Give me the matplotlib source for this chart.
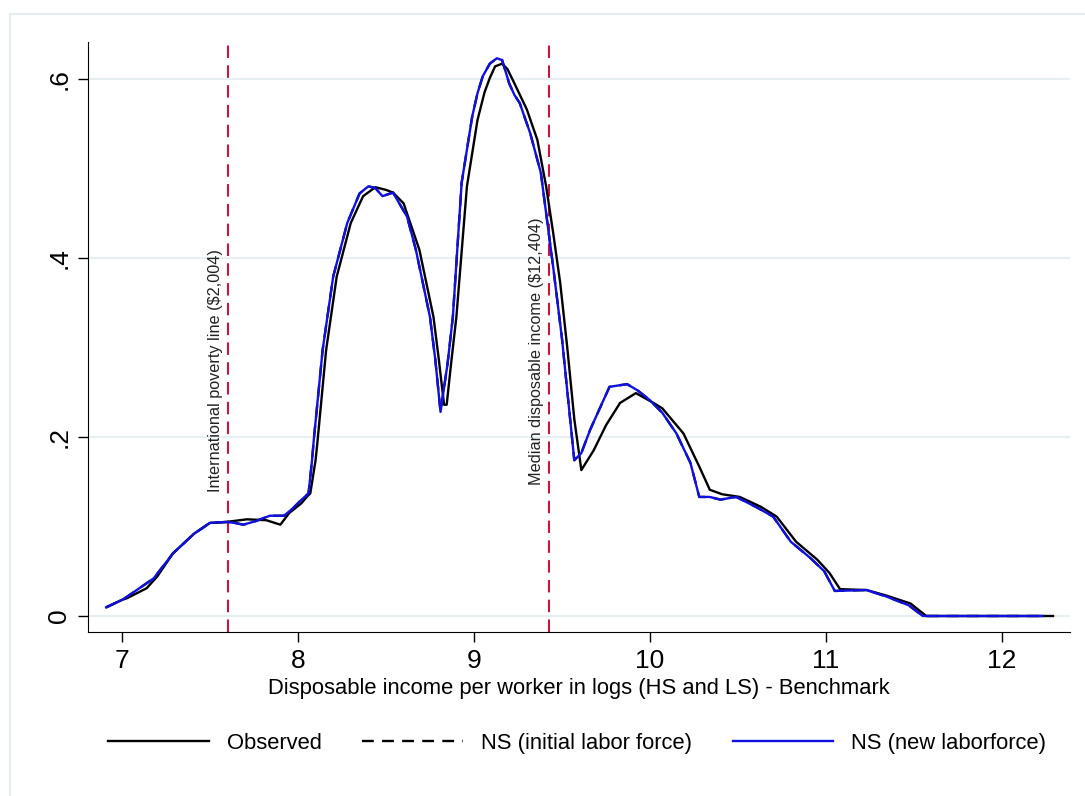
import matplotlib
matplotlib.use("Agg")
import matplotlib.pyplot as plt
from matplotlib.lines import Line2D

plt.rcParams['font.family'] = ['Liberation Sans', 'DejaVu Sans']

# Observed density
obs_x = [6.915, 7.0, 7.03, 7.14, 7.2, 7.29, 7.41, 7.5, 7.59, 7.71, 7.82, 7.9, 7.95, 8.02, 8.05,
         8.07, 8.1, 8.11, 8.16, 8.22, 8.3, 8.37, 8.44, 8.5, 8.54, 8.6, 8.69, 8.77, 8.80, 8.83, 8.845,
         8.87, 8.9, 8.96, 9.02, 9.06, 9.09, 9.12, 9.16, 9.19, 9.22, 9.3, 9.36, 9.41, 9.45, 9.49,
         9.53, 9.57, 9.61, 9.68, 9.75, 9.83, 9.92, 10.02, 10.07, 10.19, 10.28, 10.34, 10.41, 10.51,
         10.63, 10.72, 10.83, 10.95, 11.02, 11.08, 11.23, 11.34, 11.48, 11.57, 12.29]
obs_y = [0.010, 0.018, 0.020, 0.031, 0.044, 0.070, 0.092, 0.104, 0.105, 0.108, 0.107, 0.102, 0.115,
         0.126, 0.133, 0.137, 0.174, 0.193, 0.297, 0.379, 0.439, 0.469, 0.479, 0.476, 0.473, 0.461,
         0.409, 0.334, 0.287, 0.236, 0.236, 0.282, 0.334, 0.480, 0.554, 0.585, 0.601, 0.614, 0.617,
         0.611, 0.599, 0.566, 0.532, 0.480, 0.428, 0.372, 0.300, 0.220, 0.163, 0.185, 0.213, 0.238,
         0.249, 0.238, 0.232, 0.204, 0.167, 0.141, 0.136, 0.133, 0.122, 0.111, 0.083, 0.063, 0.048,
         0.030, 0.029, 0.023, 0.014, 0.0, 0.0]

# NS (new laborforce)
new_x = [6.91, 7.01, 7.18, 7.29, 7.41, 7.5, 7.59, 7.64, 7.69, 7.76, 7.84, 7.92, 7.97, 8.01, 8.06,
         8.08, 8.09, 8.14, 8.2, 8.28, 8.35, 8.4, 8.44, 8.48, 8.54, 8.62, 8.67, 8.75, 8.78, 8.81,
         8.85, 8.88, 8.93, 8.99, 9.02, 9.05, 9.09, 9.13, 9.16, 9.2, 9.23, 9.26, 9.32, 9.38, 9.41,
         9.45, 9.5, 9.57, 9.61, 9.66, 9.77, 9.87, 9.93, 10.0, 10.07, 10.15, 10.23, 10.28, 10.34,
         10.4, 10.49, 10.61, 10.7, 10.8, 10.91, 10.99, 11.05, 11.23, 11.34, 11.47, 11.55, 12.23]
new_y = [0.0097, 0.019, 0.042, 0.070, 0.092, 0.104, 0.105, 0.104, 0.102, 0.106, 0.112, 0.112, 0.120,
         0.128, 0.137, 0.174, 0.197, 0.297, 0.379, 0.439, 0.472, 0.480, 0.478, 0.469, 0.473, 0.446,
         0.409, 0.334, 0.287, 0.228, 0.282, 0.334, 0.484, 0.558, 0.584, 0.603, 0.617, 0.623, 0.621,
         0.595, 0.582, 0.573, 0.539, 0.495, 0.450, 0.390, 0.310, 0.174, 0.182, 0.208, 0.256, 0.259,
         0.252, 0.241, 0.227, 0.204, 0.171, 0.133, 0.133, 0.130, 0.133, 0.121, 0.111, 0.083, 0.065,
         0.050, 0.028, 0.029, 0.022, 0.012, 0.0, 0.0]

# NS (initial labor force) - lies under the new laborforce curve
init_x = new_x
init_y = new_y

poverty_line = 7.603
median_income = 9.426
x_ticks = [7, 8, 9, 10, 11, 12]
y_ticks = [0, 0.2, 0.4, 0.6]
y_labels = ['0', '.2', '.4', '.6']

fig = plt.figure(figsize=(10.85, 7.96), dpi=100)
ax = fig.add_axes([0.0811, 0.206, 0.905, 0.741])

# outer frame (cropped)
fig.add_artist(Line2D([10 / 1085, 10 / 1085], [0, 1 - 14 / 796], color='#e4ecf1', lw=1.5))
fig.add_artist(Line2D([10 / 1085, 1], [1 - 14 / 796, 1 - 14 / 796], color='#e4ecf1', lw=1.5))

for yt in y_ticks:
    ax.axhline(yt, color='#e7eff2', lw=1.6, zorder=0)

ax.plot(init_x, init_y, color='black', ls=(0, (5, 3.5)), lw=1.7, label='NS (initial labor force)',
        zorder=2, solid_joinstyle='round')
ax.plot(obs_x, obs_y, color='black', lw=1.7, label='Observed', zorder=3, solid_joinstyle='round')
ax.plot(new_x, new_y, color='#1010e0', lw=1.7, label='NS (new laborforce)', zorder=4,
        solid_joinstyle='round')

for xv in (poverty_line, median_income):
    ax.plot([xv, xv], [-0.0179, 0.638], color='#c8163f', lw=1.5, ls=(0, (6, 3.5)), zorder=1)

ax.text(poverty_line - 0.03, 0.1385, 'International poverty line ($2,004)', rotation=90,
        ha='right', va='bottom', fontsize=11.7, color='#222222')
ax.text(median_income - 0.03, 0.146, 'Median disposable income ($12,404)', rotation=90,
        ha='right', va='bottom', fontsize=11.7, color='#222222')

ax.set_xlim(6.807, 12.386)
ax.set_ylim(-0.0179, 0.641)
ax.set_xticks(x_ticks)
ax.set_yticks(y_ticks)
ax.set_yticklabels(y_labels, rotation=90, va='center')
ax.tick_params(axis='both', length=7, width=1, labelsize=19, pad=5)
ax.spines['top'].set_visible(False)
ax.spines['right'].set_visible(False)
ax.set_xlabel('Disposable income per worker in logs (HS and LS) - Benchmark', fontsize=15.8, labelpad=4)

handles, labels = ax.get_legend_handles_labels()
order = [1, 0, 2]
fig.legend([handles[i] for i in order], [labels[i] for i in order], loc='center',
           bbox_to_anchor=(0.532, 0.066), ncol=3, frameon=False, fontsize=15.8,
           handlelength=4.6, handletextpad=0.8, columnspacing=1.85)

fig.savefig('out.png', dpi=100)
